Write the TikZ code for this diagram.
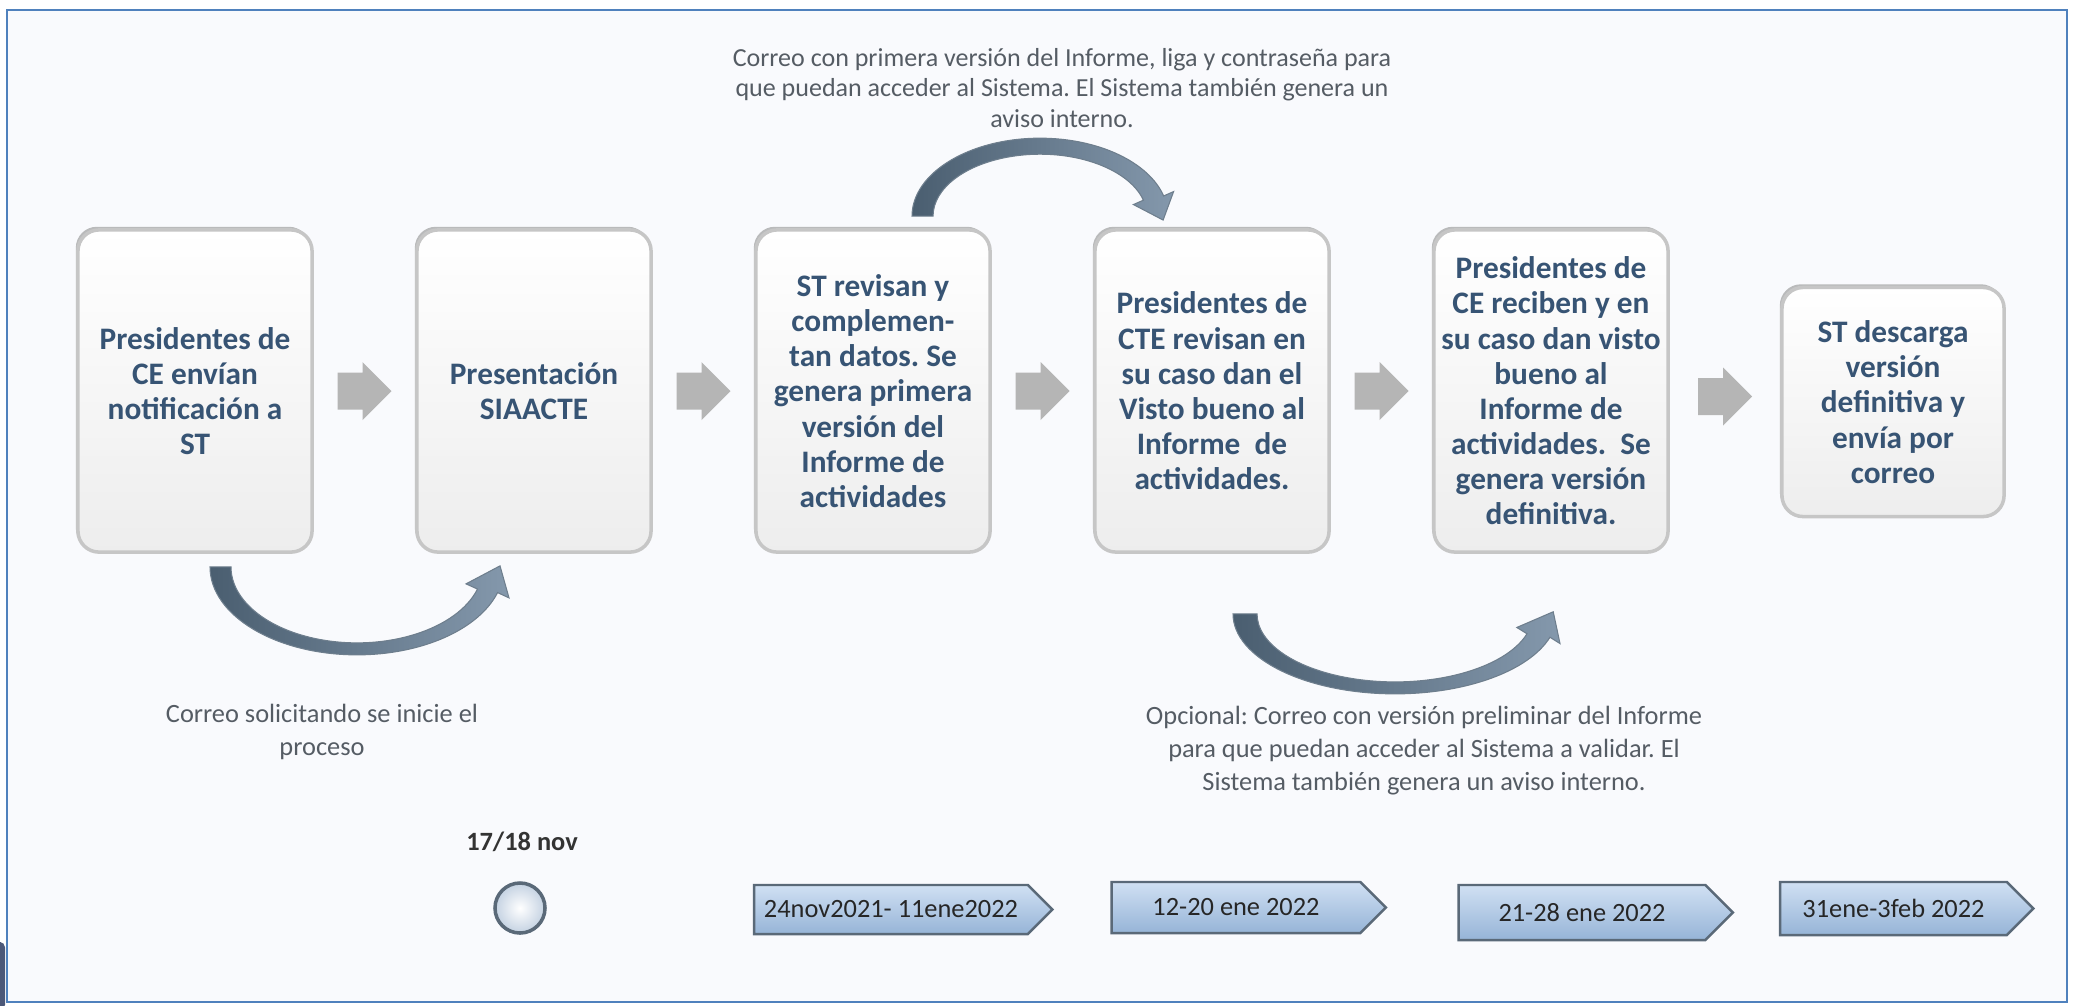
\documentclass[tikz,border=0pt]{standalone}
\usepackage{fontspec}
\setmainfont{Carlito}
\usetikzlibrary{shapes.symbols,shadows,calc}

\definecolor{frameblue}{RGB}{79,129,189}
\definecolor{bgpanel}{RGB}{249,250,253}
\definecolor{darkslate}{RGB}{76,88,120}
\definecolor{boxtext}{RGB}{55,84,116}
\definecolor{notetext}{RGB}{85,92,100}
\definecolor{curvedark}{RGB}{74,94,112}
\definecolor{curvelight}{RGB}{132,152,172}
\definecolor{datetop}{RGB}{208,224,243}
\definecolor{datebot}{RGB}{150,180,215}
\definecolor{dateline}{RGB}{90,105,120}

\tikzset{
	stepbox/.style={rectangle, rounded corners=6pt, draw=gray!45, line width=1pt,
		top color=white, bottom color=gray!14, text=boxtext, align=center,
		drop shadow={shadow xshift=-0.6pt, shadow yshift=0.9pt, fill=gray!75, opacity=0.7},
		font=\bfseries\fontsize{8.9}{10}\selectfont, minimum width=2.34cm, minimum height=3.22cm, inner sep=2pt},
	note/.style={text=notetext, align=center, font=\fontsize{7.5}{9.4}\selectfont},
	datebox/.style={signal, signal to=east, draw=dateline, line width=0.7pt,
		top color=datetop, bottom color=datebot, text=black!85,
		font=\fontsize{7.5}{9}\selectfont, inner sep=1pt},
	curvearrow/.style={left color=curvedark, right color=curvelight, draw=curvedark!80, line width=0.3pt},
	pics/flowarrow/.style={code={
		\fill[gray!58] (-27,-18.5) -- (-2,-18.5) -- (-2,-29) -- (27,0) -- (-2,29) -- (-2,18.5) -- (-27,18.5) -- cycle;}}
}

\begin{document}
\frenchspacing
\begin{tikzpicture}[x=0.01cm,y=-0.01cm]
	\useasboundingbox (0,0) rectangle (2073,1005);
	\draw[frameblue, line width=0.8pt, fill=bgpanel] (7,10) rectangle (2067,1002);
	\fill[darkslate, rounded corners=1.5pt] (-4,942) rectangle (5,1010);

	% pasos del proceso
	\node[stepbox] (b1) at (195,391) {Presidentes de\\CE envían\\notificación a\\ST};
	\node[stepbox] (b2) at (534,391) {Presentación\\SIAACTE};
	\node[stepbox] (b3) at (873,391) {ST revisan y\\complemen-\\tan datos. Se\\genera primera\\versión del\\Informe de\\actividades};
	\node[stepbox] (b4) at (1212,391) {Presidentes de\\CTE revisan en\\su caso dan el\\Visto bueno al\\Informe~ de\\actividades.};
	\node[stepbox] (b5) at (1551,391) {Presidentes de\\CE reciben y en\\su caso dan visto\\bueno al\\Informe de\\actividades.~ Se\\genera versión\\definitiva.};
	\node[stepbox, minimum width=2.22cm, minimum height=2.29cm] (b6) at (1893,402) {ST descarga\\versión\\definitiva y\\envía por\\correo};

	\foreach \a/\b in {b1/b2,b2/b3,b3/b4,b4/b5,b5/b6}
		\pic at ($(\a.east)!0.5!(\b.west)$) {flowarrow};

	% flechas curvas
	\begin{scope}[shift={(b1.south)}]
		\path[curvearrow] (15,13) arc[start angle=180, end angle=17, x radius=147, y radius=88]
			-- (314,44) -- (305,12) -- (271,30) -- (282.5,35.2)
			arc[start angle=17, end angle=180, x radius=126, y radius=76] -- cycle;
	\end{scope}
	\begin{scope}[shift={(b3.north)}]
		\path[curvearrow] (39,-12) arc[start angle=180, end angle=345, x radius=128, y radius=78]
			-- (300.6,-36.6) -- (290.1,-8.1) -- (260.4,-23.6) -- (270.4,-28)
			arc[start angle=345, end angle=180, x radius=107, y radius=62] -- cycle;
	\end{scope}
	\begin{scope}[shift={(b4.south)}]
		\path[curvearrow] (21,60) arc[start angle=180, end angle=17, x radius=162, y radius=80]
			-- (348,89.7) -- (341.2,57.9) -- (304.8,73.6) -- (315,79.9)
			arc[start angle=17, end angle=180, x radius=138, y radius=68] -- cycle;
	\end{scope}

	% textos de correo
	\node[note, font=\fontsize{7.4}{8.6}\selectfont] (n1) at (1062,88) {Correo con primera versión del Informe, liga y contraseña para\\que puedan acceder al Sistema. El Sistema también genera un\\aviso interno.};
	\node[note] (n2) at (322,732) {Correo solicitando se inicie el\\proceso};
	\node[note] (n3) at (1424,751) {Opcional: Correo con versión preliminar del Informe\\para que puedan acceder al Sistema a validar. El\\Sistema también genera un aviso interno.};

	% fechas
	\node[circle, draw=dateline, line width=1pt, inner color=white, outer color=datetop!85!gray, minimum size=0.5cm, inner sep=0pt] (d0) at (520,908) {};
	\node[font=\bfseries\fontsize{7.5}{9}\selectfont, text=black!80] (d0lbl) at (522,842) {17/18 nov};
	\node[datebox, minimum width=2.98cm, minimum height=0.49cm] (d1) at (891,909.5) {24nov2021- 11ene2022};
	\node[datebox, minimum width=2.74cm, minimum height=0.51cm] (d2) at (1236,907.5) {12-20 ene 2022};
	\node[datebox, minimum width=2.74cm, minimum height=0.55cm] (d3) at (1582,912.5) {21-28 ene 2022};
	\node[datebox, minimum width=2.53cm, minimum height=0.53cm] (d4) at (1893.5,908.5) {31ene-3feb 2022};
\end{tikzpicture}
\end{document}
